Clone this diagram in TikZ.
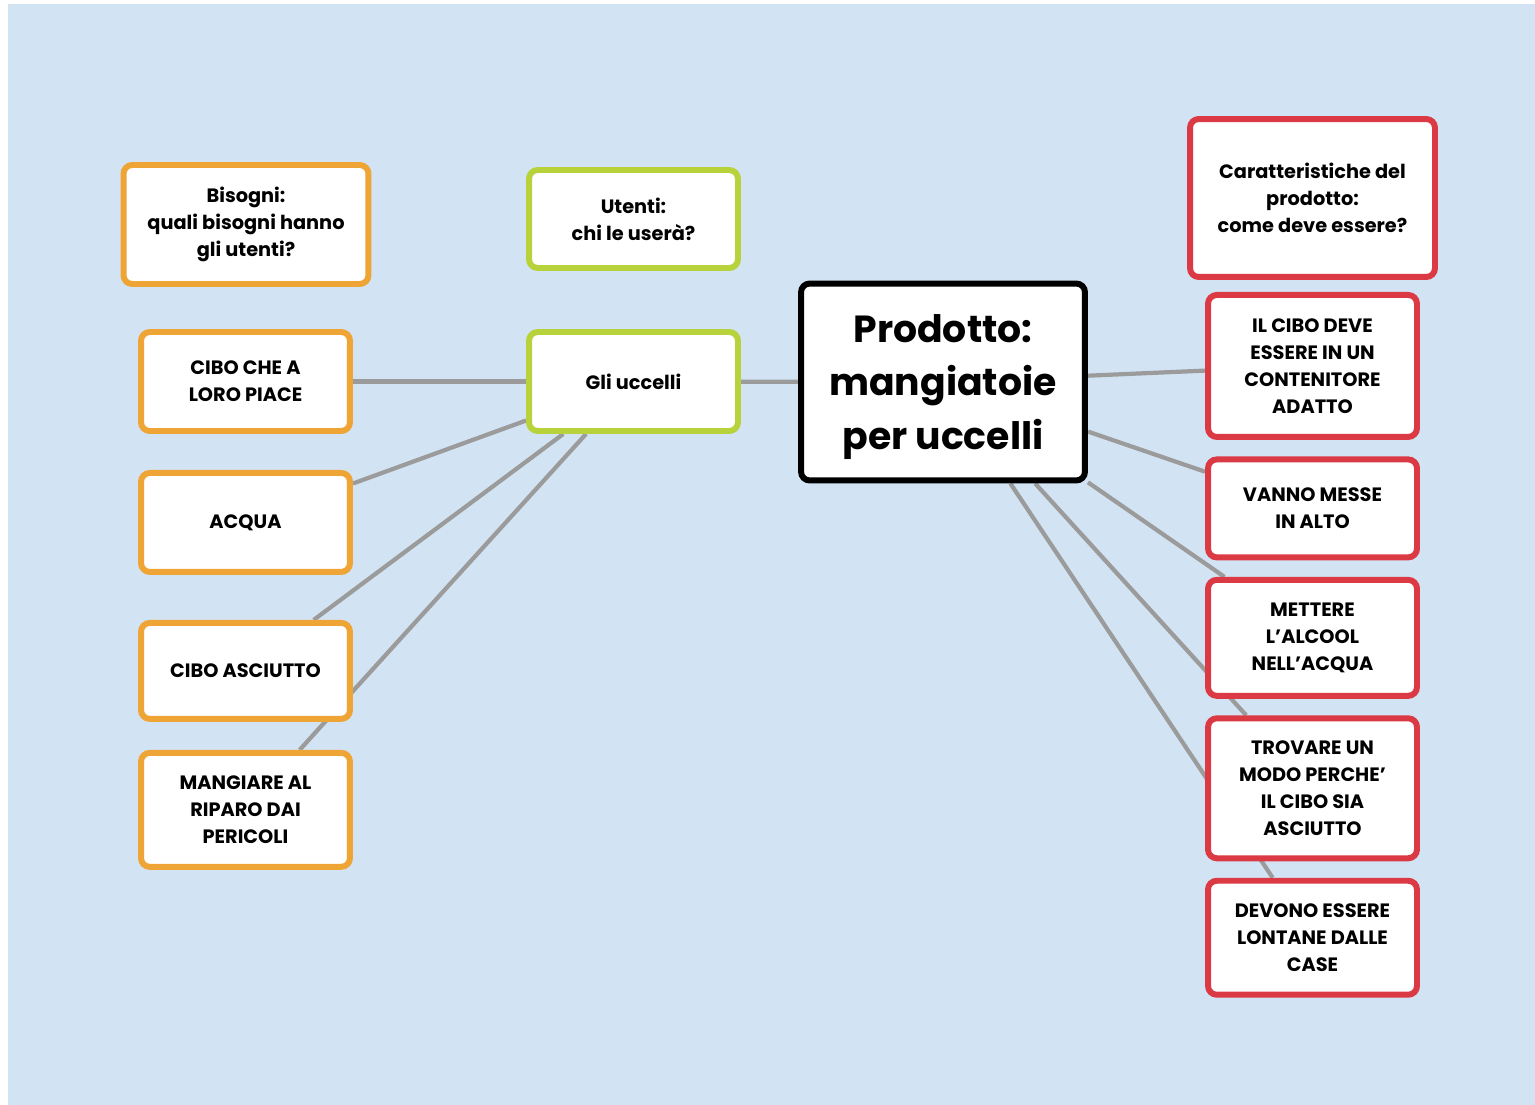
\documentclass[tikz,border=0pt]{standalone}
\usepackage{fontspec}
\setmainfont{Poppins}
\usetikzlibrary{positioning, backgrounds}
\definecolor{feedOrange}{HTML}{EFA535}
\definecolor{feedGreen}{HTML}{B8D23C}
\definecolor{feedRed}{HTML}{DB3A44}
\definecolor{feedSky}{HTML}{D2E4F3}
\definecolor{feedGrey}{HTML}{9B9B9B}

\begin{document}
\begin{tikzpicture}[
    x=0.02cm, y=-0.02cm,
    node distance=0.33cm,
    box/.style={rectangle, rounded corners=5pt, fill=white, line width=3.4pt,
                minimum width=4.18cm, minimum height=1.96cm, align=center,
                font=\fontsize{11}{15.4}\selectfont\bfseries, inner sep=4pt},
    need/.style={box, draw=feedOrange},
    user/.style={box, draw=feedGreen},
    feature/.style={box, draw=feedRed},
    core/.style={box, draw=black, minimum width=5.68cm, minimum height=3.94cm,
                 text depth=0pt, font=\fontsize{21.5}{30.4}\selectfont\bfseries},
    link/.style={draw=feedGrey, line width=2.4pt},
  ]
  \useasboundingbox (0,0) rectangle (1535,1105);

  % centro
  \node[core] (prodotto) at (943,382) {Prodotto:\\mangiatoie\\per uccelli};

  % utenti
  \node[user] (utenti) at (633.5,219) {Utenti:\\chi le userà?};
  \node[user, minimum height=1.98cm] (uccelli) at (633.5,381.5) {Gli uccelli};

  % bisogni
  \node[need, minimum width=4.9cm, minimum height=2.38cm] (bisogni) at (246,224.5)
    {Bisogni:\\quali bisogni hanno\\gli utenti?};
  \node[need, minimum height=1.98cm] (cibo) at (245.5,381.5) {CIBO CHE A\\LORO PIACE};
  \node[need, minimum height=1.98cm, below=0.72cm of cibo] (acqua) {ACQUA};
  \node[need, minimum height=1.92cm, below=0.9cm of acqua] (asciutto) {CIBO ASCIUTTO};
  \node[need, minimum height=2.28cm, below=0.56cm of asciutto] (riparo)
    {MANGIARE AL\\RIPARO DAI\\PERICOLI};

  % caratteristiche
  \node[feature, minimum width=4.9cm, minimum height=3.16cm] (caratt) at (1312.5,198)
    {Caratteristiche del\\prodotto:\\come deve essere?};
  \node[feature, minimum height=2.84cm, below=0.24cm of caratt] (contenitore)
    {IL CIBO DEVE\\ESSERE IN UN\\CONTENITORE\\ADATTO};
  \node[feature, below=of contenitore] (alto) {VANNO MESSE\\IN ALTO};
  \node[feature, minimum height=2.32cm, below=of alto] (alcool)
    {METTERE\\L’ALCOOL\\NELL’ACQUA};
  \node[feature, minimum height=2.80cm, below=of alcool] (asciutti)
    {TROVARE UN\\MODO PERCHE’\\IL CIBO SIA\\ASCIUTTO};
  \node[feature, minimum height=2.28cm, below=of asciutti] (case)
    {DEVONO ESSERE\\LONTANE DALLE\\CASE};

  \begin{scope}[on background layer]
    \fill[white] (0,0) rectangle (1535,1105);
    \fill[feedSky] (8,4) rectangle (1535,1105);

    \draw[link] (prodotto) -- (uccelli);
    \draw[link] (uccelli) -- (cibo);
    \draw[link] (uccelli) -- (acqua);
    \draw[link] (uccelli) -- (asciutto);
    \draw[link] (uccelli) -- (riparo);

    \draw[link] (prodotto) -- (contenitore);
    \draw[link] (prodotto) -- (alto);
    \draw[link] (prodotto) -- (alcool);
    \draw[link] (prodotto) -- (asciutti);
    \draw[link] (prodotto) -- (case);
  \end{scope}
\end{tikzpicture}
\end{document}
